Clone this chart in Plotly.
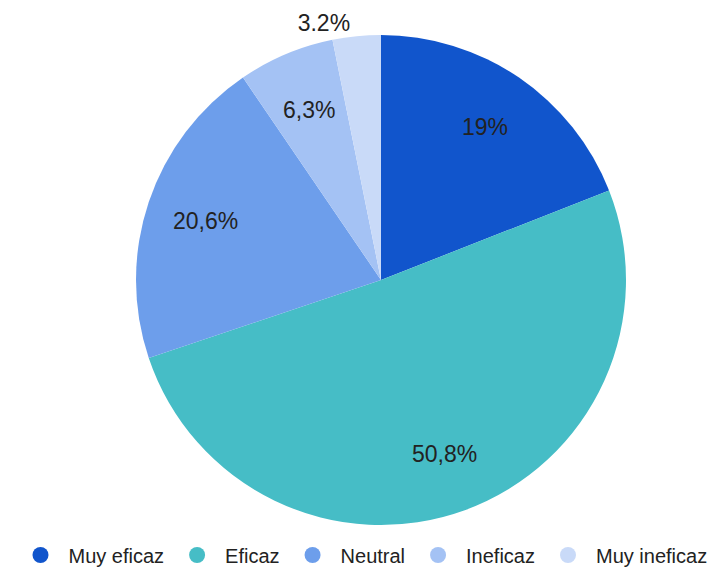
import math
import plotly.graph_objects as go

labels = ['Muy eficaz', 'Eficaz', 'Neutral', 'Ineficaz', 'Muy ineficaz']
counts = [12, 32, 13, 4, 2]
pct_text = ['19%', '50,8%', '20,6%', '6,3%', '3.2%']
colors = ['#1155CC', '#46BDC6', '#6D9EEB', '#A4C2F4', '#C9DAF8']

# page body has an 8px margin, so the figure is a bit smaller than the window
W, H = 709, 562
# pie center and radius in figure pixels
pcx, pcy, pr = 373, 272, 245

font = dict(size=23, color='#222222', family='Arial, Liberation Sans, sans-serif')

fig = go.Figure()
fig.add_trace(go.Pie(
    labels=labels,
    values=counts,
    text=pct_text,
    textinfo='text',
    # only the tiny slice gets its label outside; the others are placed like Google Sheets does
    textposition=['none', 'none', 'none', 'none', 'outside'],
    textfont=font,
    marker=dict(colors=colors, line=dict(width=0)),
    sort=False,
    direction='clockwise',
    rotation=0,
    showlegend=False,
    hoverinfo='label+percent',
    domain=dict(x=[(pcx - pr) / W, (pcx + pr) / W], y=[(H - pcy - pr) / H, (H - pcy + pr) / H]),
))

# inside labels at ~3/4 of the radius, on the mid angle of each slice
total = sum(counts)
cum = 0
annotations = []
for v, t in zip(counts, pct_text):
    mid = (cum + v / 2) / total * 2 * math.pi
    cum += v
    if t == pct_text[-1]:
        continue
    px_ = pcx + 0.755 * pr * math.sin(mid)
    py_ = pcy - 0.755 * pr * math.cos(mid)
    annotations.append(dict(
        x=px_ / W, y=1 - py_ / H, xref='paper', yref='paper',
        text=t, showarrow=False, font=font,
        xanchor='center', yanchor='middle',
    ))

# circle legend entries
for lab, col in zip(labels, colors):
    fig.add_trace(go.Scatter(
        x=[None], y=[None], mode='markers', name=lab,
        marker=dict(symbol='circle', size=21, color=col),
    ))

fig.update_layout(
    width=W, height=H,
    margin=dict(t=0, b=0, l=0, r=0, autoexpand=False),
    paper_bgcolor='white',
    plot_bgcolor='white',
    xaxis=dict(visible=False),
    yaxis=dict(visible=False),
    annotations=annotations,
    legend=dict(
        orientation='h',
        x=0.5, xanchor='center',
        y=-0.008, yanchor='bottom',
        font=dict(size=20, color='#222222', family='Arial, Liberation Sans, sans-serif'),
        itemsizing='trace',
        itemwidth=46,
    ),
)

fig.write_html("out.html")
